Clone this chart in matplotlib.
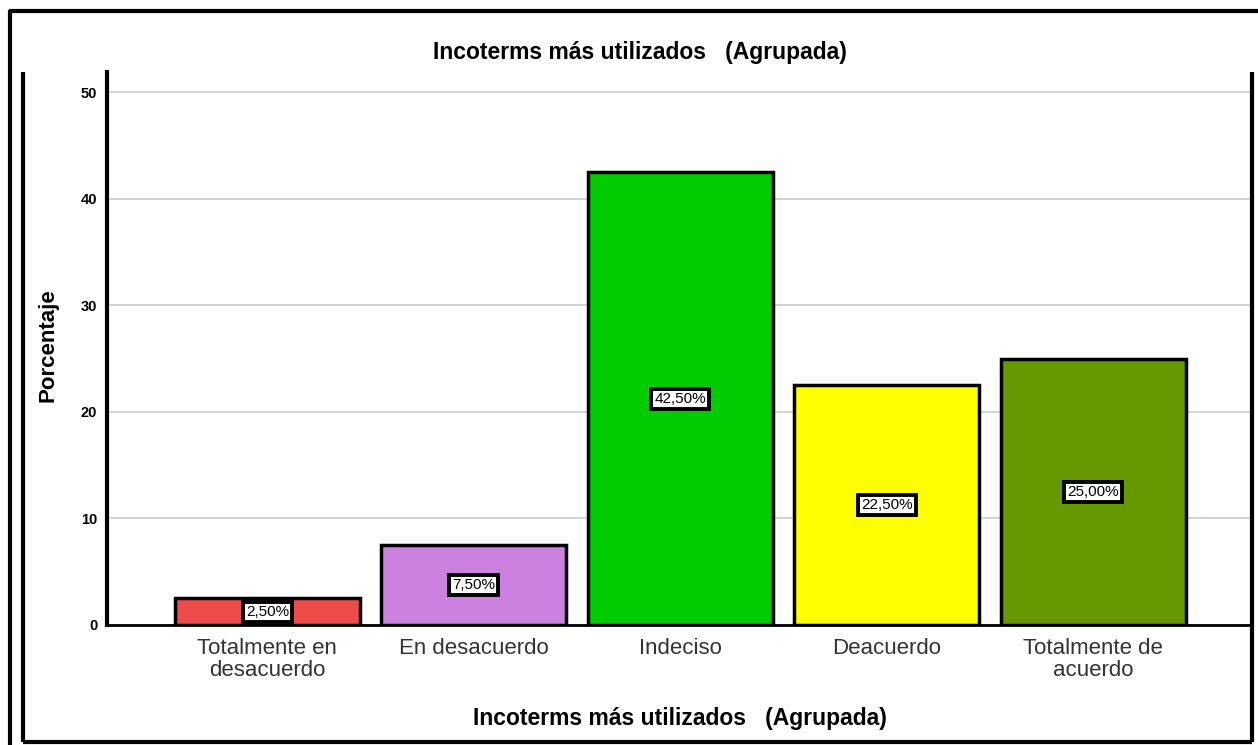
import matplotlib
matplotlib.use("Agg")
from matplotlib import pyplot as plt
from matplotlib.lines import Line2D

categorias = ["Totalmente en\ndesacuerdo", "En desacuerdo", "Indeciso", "Deacuerdo", "Totalmente de\nacuerdo"]
porcentajes = [2.5, 7.5, 42.5, 22.5, 25.0]
etiquetas = ["2,50%", "7,50%", "42,50%", "22,50%", "25,00%"]
colores = ["#EE4B4B", "#CC80E0", "#00CC00", "#FFFF00", "#669900"]
yticks = [0, 10, 20, 30, 40, 50]

plt.rcParams['font.family'] = ['Liberation Sans', 'DejaVu Sans']

fig = plt.figure(figsize=(12.58, 7.45), dpi=100)
W, H = 1258, 745

# marco exterior e interior (estilo SPSS)
def linea(x0, y0, x1, y1, lw=3):
    fig.add_artist(Line2D([x0 / W, x1 / W], [1 - y0 / H, 1 - y1 / H], color='black', lw=lw,
                          transform=fig.transFigure, solid_capstyle='butt'))

linea(9, 11, W, 11)
linea(10, 10, 10, H)
linea(23, 72, 23, 742)
linea(23, 742, 1252, 742)
linea(1252, 72, 1252, 742)

ax = fig.add_axes([107 / W, 1 - 625 / H, (1252 - 107) / W, (625 - 72) / H])
x = list(range(len(categorias)))
ax.bar(x, porcentajes, width=0.896, color=colores, edgecolor='black', linewidth=2.5, zorder=3)
ax.set_xlim(-0.777, 4.77)
ax.set_ylim(0, 51.9)
ax.set_yticks(yticks)
ax.set_yticklabels([str(v) for v in yticks], fontsize=10.5, fontweight='bold')
ax.set_xticks(x)
ax.set_xticklabels(categorias, fontsize=16, color='#333333', linespacing=1.1)
ax.tick_params(axis='x', length=0, pad=9)
ax.tick_params(axis='y', length=0, pad=7)
ax.grid(axis='y', color='#CCCCCC', lw=1.2, zorder=0)
for s in ['top', 'right']:
    ax.spines[s].set_visible(False)
ax.spines['left'].set_linewidth(3)
ax.spines['bottom'].set_linewidth(2)

for i, v in enumerate(porcentajes):
    ax.text(i, max(v / 2, 1.2), etiquetas[i], ha='center', va='center', fontsize=11, zorder=5,
            bbox=dict(boxstyle='square,pad=0.2', facecolor='white', edgecolor='black', linewidth=2.8))

ax.set_ylabel("Porcentaje", fontsize=16, fontweight='bold')
ax.yaxis.set_label_coords((59 - 107) / (1252 - 107), (625 - 345) / (625 - 72))

fig.text(640 / W, 1 - 53 / H, "Incoterms más utilizados   (Agrupada)", ha='center', va='center',
         fontsize=16.5, fontweight='bold')
fig.text(680 / W, 1 - 718 / H, "Incoterms más utilizados   (Agrupada)", ha='center', va='center',
         fontsize=16.5, fontweight='bold')

fig.savefig("out.png", dpi=100)
